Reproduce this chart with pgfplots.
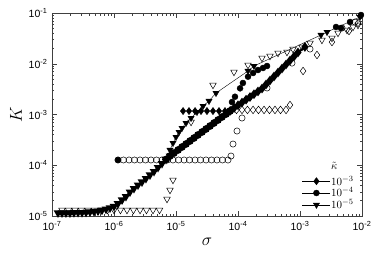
\documentclass[border=0pt]{standalone}
\usepackage{fontspec}
\setsansfont{Liberation Sans}
\usepackage{pgfplots}
\pgfplotsset{compat=1.18}

\begin{document}
\begin{tikzpicture}
\begin{loglogaxis}[
  name=ax, scale only axis, width=310pt, height=203pt,
  xmin=1e-7, xmax=1e-2, ymin=1e-5, ymax=1e-1,
  xtick={1e-7,1e-6,1e-5,1e-4,1e-3,1e-2},
  xticklabels={10\textsuperscript{-7},10\textsuperscript{-6},10\textsuperscript{-5},10\textsuperscript{-4},10\textsuperscript{-3},10\textsuperscript{-2}},
  ytick={1e-5,1e-4,1e-3,1e-2,1e-1},
  yticklabels={10\textsuperscript{-5},10\textsuperscript{-4},10\textsuperscript{-3},10\textsuperscript{-2},10\textsuperscript{-1}},
  tick label style={font=\sffamily\fontsize{10.5}{12}\selectfont},
  xticklabel style={yshift=-2pt}, yticklabel style={xshift=-1pt},
  major tick length=5pt, minor tick length=2.5pt,
  axis line style={line width=0.7pt, black!75}, every tick/.style={black!75, line width=0.5pt},
  xlabel={$\sigma$}, ylabel={$K$},
  label style={font=\fontsize{17}{20}\selectfont},
  legend image code/.code={\draw[mark repeat=2,mark phase=2,#1] plot coordinates {(0pt,0pt) (14pt,0pt) (28pt,0pt)};},
  legend style={draw=none, fill=none, at={(0.985,0.015)}, anchor=south east,
    font=\fontsize{11}{12}\selectfont, nodes={inner sep=0.6pt}, cells={anchor=west}},
]
\addlegendimage{empty legend}\addlegendentry{\raisebox{4pt}{$\tilde{\kappa}$}}
\addlegendimage{black, thin, mark=diamond*, mark size=3.6pt}\addlegendentry{$10^{-3}$}
\addlegendimage{black, thin, mark=*, mark size=3pt}\addlegendentry{$10^{-4}$}
\addlegendimage{black, thin, mark=triangle*, mark size=3.6pt, mark options={rotate=180}}\addlegendentry{$10^{-5}$}

% dense filled curves
\addplot[forget plot, black, line width=2pt, mark=triangle*, mark size=3pt, mark options={rotate=180}] coordinates {
(1.25e-7,1.15e-5) (1.45e-7,1.15e-5) (1.68e-7,1.15e-5) (1.95e-7,1.15e-5) (2.26e-7,1.16e-5)
(2.63e-7,1.17e-5) (3.05e-7,1.17e-5) (3.54e-7,1.18e-5) (4.10e-7,1.20e-5) (4.76e-7,1.22e-5)
(5.52e-7,1.25e-5) (6.41e-7,1.30e-5) (7.43e-7,1.36e-5) (8.62e-7,1.44e-5) (1.00e-6,1.54e-5)
(1.16e-6,1.75e-5) (1.35e-6,2.07e-5) (1.56e-6,2.42e-5) (1.81e-6,2.97e-5) (2.10e-6,3.48e-5)
(2.44e-6,4.08e-5) (2.83e-6,4.68e-5) (3.28e-6,5.48e-5) (3.81e-6,6.43e-5) (4.42e-6,7.53e-5)
(5.13e-6,9.03e-5) (5.95e-6,1.08e-4) (6.90e-6,1.30e-4) (8.00e-6,1.52e-4)};
\addplot[forget plot, black, line width=2pt, mark=*, mark size=2.8pt] coordinates {
(6.90e-6,1.30e-4) (8.00e-6,1.52e-4) (9.28e-6,1.74e-4) (1.08e-5,2.00e-4) (1.25e-5,2.29e-4)
(1.45e-5,2.62e-4) (1.68e-5,3.00e-4) (1.95e-5,3.44e-4) (2.26e-5,3.95e-4) (2.63e-5,4.52e-4)
(3.05e-5,5.18e-4) (3.54e-5,5.93e-4) (4.10e-5,6.80e-4) (4.76e-5,7.79e-4) (5.52e-5,8.93e-4)
(6.41e-5,1.02e-3) (7.43e-5,1.17e-3)};
\addplot[forget plot, black, line width=2pt, mark=diamond*, mark size=3.2pt] coordinates {
(7.43e-5,1.17e-3) (8.62e-5,1.34e-3) (1.00e-4,1.52e-3) (1.16e-4,1.72e-3) (1.35e-4,1.96e-3)
(1.56e-4,2.21e-3) (1.81e-4,2.51e-3) (2.10e-4,2.85e-3) (2.44e-4,3.25e-3) (2.83e-4,3.90e-3)
(3.28e-4,4.68e-3) (3.81e-4,5.61e-3) (4.42e-4,6.72e-3) (5.13e-4,8.06e-3) (5.95e-4,9.66e-3)
(6.90e-4,1.16e-2) (8.00e-4,1.39e-2) (9.28e-4,1.67e-2) (1.20e-3,2.14e-2)};

% filled plateau of kappa = 1e-3
\addplot[forget plot, black, only marks, mark=diamond*, mark size=3.6pt] coordinates {
(1.30e-5,1.17e-3) (1.62e-5,1.17e-3) (2.03e-5,1.17e-3) (2.53e-5,1.17e-3) (3.16e-5,1.17e-3)
(3.95e-5,1.17e-3) (4.94e-5,1.17e-3) (6.17e-5,1.17e-3)};

% sparse filled branches
\addplot[forget plot, black, thin, mark=triangle*, mark size=3.6pt, mark options={rotate=180}] coordinates {
(8.00e-6,2.00e-4) (8.94e-6,2.74e-4) (1.00e-5,3.60e-4) (1.12e-5,4.52e-4) (1.25e-5,5.42e-4)
(1.45e-5,6.80e-4) (1.75e-5,8.53e-4) (2.18e-5,1.12e-3) (2.73e-5,1.47e-3) (3.41e-5,1.85e-3)
(4.42e-5,2.65e-3) (1.45e-4,7.20e-3) (1.81e-4,9.03e-3) (2.18e-3,3.69e-2) (2.73e-3,4.22e-2)
(9.28e-3,8.34e-2)};
\addplot[forget plot, black, only marks, mark=*, mark size=3pt] coordinates {
(1.16e-6,1.27e-4)
(8.00e-5,1.76e-3) (8.94e-5,2.24e-3) (1.08e-4,3.28e-3) (1.20e-4,4.18e-3) (1.45e-4,5.56e-3)
(1.75e-4,6.57e-3) (2.10e-4,7.53e-3) (2.53e-4,8.25e-3) (2.94e-4,9.03e-3)
(3.81e-3,5.30e-2) (4.58e-3,5.06e-2) (6.41e-3,6.65e-2) (9.63e-3,9.13e-2)};

% open symbols
\addplot[forget plot, black, only marks, mark=triangle, mark size=3.8pt, mark options={rotate=180, line width=0.5pt}] coordinates {
(1.45e-7,1.31e-5) (1.85e-7,1.31e-5) (2.35e-7,1.31e-5) (2.99e-7,1.31e-5) (3.81e-7,1.31e-5)
(4.85e-7,1.31e-5) (6.17e-7,1.31e-5) (7.86e-7,1.31e-5) (1.00e-6,1.31e-5) (1.27e-6,1.31e-5)
(1.62e-6,1.31e-5) (2.06e-6,1.31e-5) (2.63e-6,1.31e-5) (3.34e-6,1.31e-5) (4.26e-6,1.31e-5)
(5.42e-6,1.31e-5)
(7.16e-6,2.16e-5) (8.00e-6,3.25e-5) (8.94e-6,5.12e-5) (1.75e-5,7.12e-4) (3.95e-5,3.81e-3)
(8.62e-5,6.88e-3) (1.45e-4,9.45e-3) (2.44e-4,1.30e-2) (3.28e-4,1.42e-2) (4.42e-4,1.63e-2)
(6.17e-4,1.70e-2) (7.71e-4,1.95e-2) (1.08e-3,2.14e-2) (1.45e-3,2.56e-2) (2.26e-3,2.94e-2)
(3.28e-3,3.22e-2) (4.10e-3,4.04e-2) (5.73e-3,4.62e-2) (7.16e-3,5.30e-2) (8.62e-3,5.80e-2)};
\addplot[forget plot, black, only marks, mark=o, mark size=3.1pt, mark options={line width=0.5pt}] coordinates {
(1.16e-6,1.27e-4) (1.42e-6,1.27e-4) (1.75e-6,1.27e-4) (2.14e-6,1.27e-4) (2.63e-6,1.27e-4)
(3.22e-6,1.27e-4) (3.95e-6,1.27e-4) (4.85e-6,1.27e-4) (5.95e-6,1.27e-4) (7.29e-6,1.27e-4)
(8.94e-6,1.27e-4) (1.10e-5,1.27e-4) (1.35e-5,1.27e-4) (1.65e-5,1.27e-4) (2.03e-5,1.27e-4)
(2.48e-5,1.27e-4) (3.05e-5,1.27e-4) (3.74e-5,1.27e-4) (4.58e-5,1.27e-4) (5.62e-5,1.27e-4)
(6.90e-5,1.27e-4)
(7.71e-5,1.52e-4) (8.31e-5,2.62e-4) (9.63e-5,4.73e-4) (1.16e-4,8.53e-4) (2.94e-4,3.33e-3)
(7.43e-4,1.03e-2) (1.45e-3,1.95e-2) (4.76e-3,5.06e-2) (7.71e-3,6.65e-2)};
\addplot[forget plot, black, only marks, mark=diamond, mark size=3.8pt, mark options={line width=0.5pt}] coordinates {
(7.71e-5,1.23e-3) (9.46e-5,1.23e-3) (1.16e-4,1.23e-3) (1.42e-4,1.23e-3) (1.75e-4,1.23e-3)
(2.14e-4,1.23e-3) (2.63e-4,1.23e-3) (3.22e-4,1.23e-3) (3.95e-4,1.23e-3) (4.85e-4,1.23e-3)
(5.95e-4,1.23e-3) (6.90e-4,1.54e-3)
(1.12e-3,7.20e-3) (1.88e-3,1.49e-2) (3.28e-3,2.68e-2) (6.17e-3,4.42e-2) (8.62e-3,6.35e-2)};
\end{loglogaxis}
\pgfresetboundingbox
\path ([shift={(-52pt,-38pt)}]ax.south west) rectangle ([shift={(28pt,13pt)}]ax.north east);
\end{tikzpicture}
\end{document}
